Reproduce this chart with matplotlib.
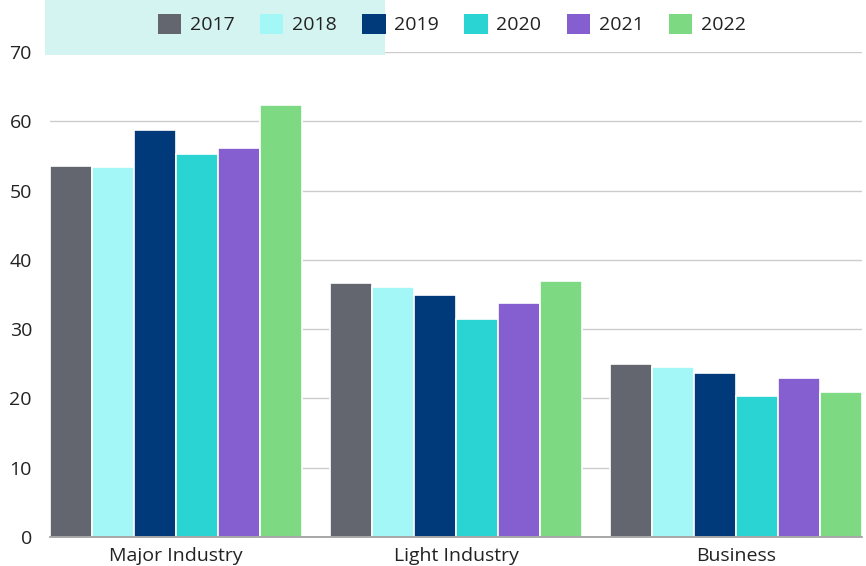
import matplotlib
matplotlib.use("Agg")
import matplotlib.pyplot as plt
from matplotlib.patches import Rectangle, Patch
import numpy as np

categories = ["Major Industry", "Light Industry", "Business"]
years = ["2017", "2018", "2019", "2020", "2021", "2022"]
values = {
    "2017": [53.5, 36.6, 25.0],
    "2018": [53.4, 36.1, 24.5],
    "2019": [58.8, 35.0, 23.6],
    "2020": [55.3, 31.4, 20.4],
    "2021": [56.1, 33.8, 22.9],
    "2022": [62.3, 36.9, 20.9],
}
colors = ["#63666f", "#a3f8f7", "#003a7a", "#2ad4d3", "#855fd0", "#7dda82"]
yticks = [0, 10, 20, 30, 40, 50, 60, 70]

plt.rcParams['font.family'] = ['Open Sans', 'DejaVu Sans']

fig = plt.figure(figsize=(8.66, 5.66), dpi=100)
fig.patches.append(Rectangle((45/866, 1-55/566), 340/866, 55/566,
                             transform=fig.transFigure, facecolor="#d4f4f2",
                             edgecolor="none", zorder=0))
ax = fig.add_axes([50/866, 1-537/566, 812/866, 485/566])
ax.patch.set_alpha(0)

x = np.arange(len(categories))
group_w = 0.9
bw = group_w / len(years)
for i, (yr, c) in enumerate(zip(years, colors)):
    ax.bar(x - group_w/2 + bw*(i+0.5), values[yr], width=bw, color=c,
           edgecolor="white", linewidth=1.2, label=yr, zorder=3)

ax.set_xlim(-0.45, 2.45)
ax.set_ylim(0, 70)
ax.set_yticks(yticks)
ax.set_xticks(x)
ax.set_xticklabels(categories)
ax.grid(axis="y", color="#cccccc", linewidth=1, zorder=0)
for s in ["top", "right", "left"]:
    ax.spines[s].set_visible(False)
ax.spines["bottom"].set_color("#999999")
ax.spines["bottom"].set_linewidth(1.2)
ax.spines["bottom"].set_zorder(4)
ax.tick_params(axis="both", length=0, labelsize=14, colors="#222222")
ax.tick_params(axis="y", pad=13)
ax.tick_params(axis="x", pad=7)

handles = [Patch(facecolor=c, edgecolor="none") for c in colors]
leg = fig.legend(handles, years, ncol=6, loc="center",
                 bbox_to_anchor=(452/866, 1-24/566),
                 bbox_transform=fig.transFigure, frameon=False, fontsize=14,
                 handlelength=1.2, handleheight=1.2, handletextpad=0.45,
                 columnspacing=1.3, labelcolor="#222222")
leg.set_zorder(10)

fig.savefig("out.png", dpi=100)
